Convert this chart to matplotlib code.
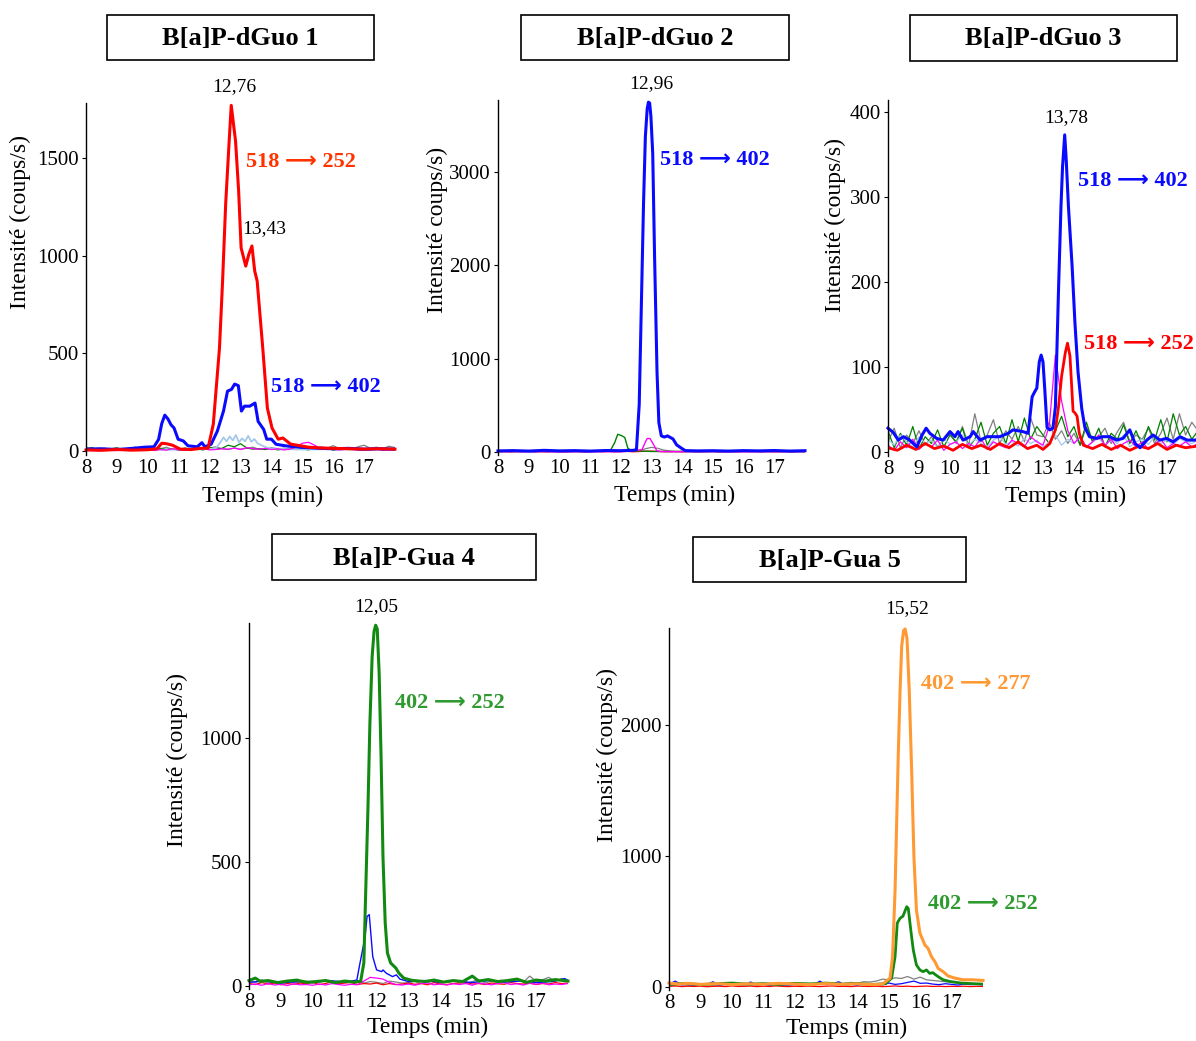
"""Chromatogrammes LC-MS/MS des adduits B[a]P-dGuo / B[a]P-Gua."""
import numpy as np
import matplotlib
matplotlib.use('Agg')
import matplotlib.pyplot as plt
from matplotlib.patches import Rectangle

plt.rcParams['font.family'] = ['Liberation Serif', 'DejaVu Sans']

W, H = 1196, 1041

# ---------------- data (temps en min, intensité en coups/s) ----------------
x_ticks = [8, 9, 10, 11, 12, 13, 14, 15, 16, 17]

# Panel 1 : B[a]P-dGuo 1
p1_red_t = [8.0, 8.5, 9.0, 9.5, 10.0, 10.3, 10.45, 10.6, 10.8, 11.05, 11.4, 11.7, 11.95,
            12.12, 12.32, 12.42, 12.52, 12.62, 12.7, 12.84, 12.94, 13.02, 13.17, 13.27,
            13.37, 13.46, 13.54, 13.72, 13.87, 14.02, 14.22, 14.37, 14.62, 15.2, 15.6,
            16.0, 16.5, 17.0, 17.5, 18.0]
p1_red_v = [6, 4, 8, 5, 7, 12, 40, 38, 30, 10, 8, 14, 15,
            138, 528, 870, 1265, 1550, 1770, 1587, 1331, 1040, 947, 1008,
            1050, 922, 870, 528, 220, 118, 61, 67, 36, 20, 16,
            14, 12, 10, 12, 10]
p1_blue_t = [8.0, 8.5, 9.0, 9.5, 9.9, 10.2, 10.35, 10.45, 10.55, 10.65, 10.75, 10.85, 10.98,
             11.15, 11.3, 11.6, 11.75, 11.85, 12.05, 12.25, 12.45, 12.58, 12.71, 12.81,
             12.93, 13.03, 13.13, 13.3, 13.47, 13.57, 13.75, 13.85, 14.0, 14.15, 14.45,
             15.0, 15.5, 16.0, 16.5, 17.0, 17.5, 18.0]
p1_blue_v = [10, 12, 8, 14, 20, 22, 60, 140, 184, 165, 135, 118, 61,
             52, 27, 22, 43, 22, 35, 102, 205, 307, 316, 343,
             335, 205, 230, 230, 246, 152, 111, 61, 61, 35, 27,
             19, 15, 12, 14, 10, 12, 10]
p1_lblue_t = [8.0, 9.0, 10.0, 11.0, 12.0, 12.2, 12.35, 12.45, 12.55, 12.65, 12.75, 12.85,
              12.95, 13.05, 13.15, 13.25, 13.35, 13.45, 13.55, 13.7, 13.9, 14.5, 15.0,
              16.0, 17.0, 18.0]
p1_lblue_v = [8, 10, 6, 8, 10, 15, 45, 70, 50, 75, 55, 82,
              45, 65, 50, 78, 48, 62, 40, 28, 15, 10, 8,
              10, 7, 9]
p1_gray = [20, 8, 15, 6, 12, 18, 7, 14, 10, 5, 16, 9, 12, 20, 8, 11, 14, 6, 18, 10, 15, 22,
           12, 8, 16, 10, 14, 20, 9, 13, 18, 11, 15, 8, 25, 12, 16, 10, 20, 14, 28, 12, 18,
           10, 22, 30, 15, 20, 12, 25, 18]
p1_green = [12, 18, 6, 14, 9, 16, 5, 12, 20, 8, 10, 6, 14, 9, 12, 5, 16, 8, 11, 6, 20, 10,
            14, 30, 22, 38, 16, 10, 12, 8, 14, 6, 10, 15, 8, 12, 6, 18, 9, 14, 5, 10, 16, 8,
            12, 6, 10, 14, 8, 12, 10]
p1_magenta = [3, 5, 2, 6, 4, 3, 7, 2, 5, 4, 6, 3, 8, 5, 12, 6, 4, 8, 10, 14, 6, 8, 12, 10,
              15, 8, 18, 12, 10, 14, 8, 12, 6, 10, 20, 40, 45, 30, 12, 8, 10, 6, 9, 12, 5,
              8, 6, 10, 4, 7, 5]

# Panel 2 : B[a]P-dGuo 2
p2_blue_t = [8.0, 8.5, 9.0, 9.5, 10.0, 10.5, 11.0, 11.5, 12.0, 12.4, 12.51, 12.6, 12.67,
             12.74, 12.8, 12.86, 12.9, 12.94, 12.98, 13.04, 13.1, 13.18, 13.24, 13.32,
             13.42, 13.52, 13.7, 13.82, 13.98, 14.1, 14.5, 15.0, 15.5, 16.0, 16.5, 17.0,
             17.5, 18.0]
p2_blue_v = [12, 15, 10, 18, 12, 15, 10, 16, 14, 18, 25, 510, 1580,
             2660, 3380, 3680, 3750, 3740, 3600, 3200, 2100, 856, 314, 173,
             160, 173, 140, 76, 40, 15, 12, 14, 10, 15, 12, 16,
             10, 14]
p2_green_t = [8.0, 9.0, 10.0, 11.0, 11.65, 11.8, 11.9, 12.03, 12.13, 12.23, 12.35, 13.0,
              14.0, 15.0, 16.0, 17.0, 18.0]
p2_green_v = [5, 6, 4, 5, 10, 100, 190, 175, 155, 40, 15, 6, 5, 4, 6, 5, 4]
p2_magenta_t = [8.0, 9.0, 10.0, 11.0, 12.0, 12.69, 12.79, 12.86, 12.95, 13.05, 13.17, 13.3,
                14.0, 15.0, 16.0, 17.0, 18.0]
p2_magenta_v = [3, 4, 2, 3, 4, 25, 100, 145, 145, 90, 15, 5, 3, 4, 2, 3, 4]
p2_gray = [8, 12, 5, 10, 6, 14, 4, 9, 12, 6, 10, 5, 8, 11, 4, 9, 13, 6, 10, 7, 12, 8, 5,
           10, 35, 50, 40, 20, 12, 6, 10, 8, 14, 5, 9, 12, 6, 10, 4, 8, 13, 7, 10, 5, 12,
           20, 8, 10, 6, 9, 12]
p2_red = [3, 6, 2, 5, 4, 7, 3, 5, 2, 6, 4, 3, 5, 7, 2, 4, 6, 3, 5, 2, 4, 6, 3, 5, 8, 10,
          6, 4, 3, 5, 2, 6, 4, 3, 5, 7, 2, 4, 6, 3, 5, 4, 6, 3, 5, 2, 4, 6, 3, 5, 4]

# Panel 3 : B[a]P-dGuo 3
p3_blue_t = [8.0, 8.17, 8.33, 8.5, 8.7, 8.93, 9.1, 9.23, 9.35, 9.57, 9.78, 10.0, 10.16,
             10.26, 10.42, 10.65, 10.75, 10.97, 11.2, 11.4, 11.6, 11.88, 12.03, 12.35,
             12.52, 12.65, 12.75, 12.8, 12.88, 12.94, 13.0, 13.06, 13.13, 13.22, 13.32,
             13.4, 13.5, 13.58, 13.63, 13.7, 13.75, 13.82, 13.94, 14.03, 14.13, 14.25,
             14.35, 14.5, 14.73, 14.93, 15.15, 15.37, 15.58, 15.8, 15.97, 16.13, 16.35,
             16.55, 16.77, 16.98, 17.2, 17.42, 17.65, 17.9, 18.0]
p3_blue_v = [28, 23, 14, 18, 14, 6, 20, 28, 22, 16, 14, 24, 18,
             24, 14, 18, 24, 14, 18, 18, 18, 22, 26, 24,
             22, 65, 72, 75, 106, 114, 106, 72, 29, 26, 28,
             53, 190, 289, 335, 373, 343, 289, 218, 152, 94, 51,
             29, 18, 16, 18, 18, 14, 16, 26, 10, 5, 14,
             20, 14, 16, 12, 18, 14, 14, 15]
p3_red_t = [8.0, 8.3, 8.6, 8.9, 9.2, 9.5, 9.8, 10.1, 10.4, 10.7, 11.0, 11.3, 11.6, 11.9,
            12.2, 12.5, 12.8, 13.0, 13.22, 13.4, 13.5, 13.6, 13.72, 13.79, 13.87, 13.97,
            14.03, 14.1, 14.17, 14.3, 14.6, 14.9, 15.2, 15.5, 15.8, 16.1, 16.4, 16.7,
            17.0, 17.3, 17.6, 18.0]
p3_red_v = [5, 2, 8, 3, 10, 4, 7, 2, 9, 4, 8, 3, 10, 5,
            12, 4, 8, 3, 10, 26, 53, 89, 117, 128, 113, 48,
            46, 42, 22, 8, 4, 9, 3, 8, 2, 7, 4, 10,
            3, 8, 5, 7]
p3_green = [25, 5, 22, 8, 30, 4, 18, 10, 26, 6, 20, 12, 28, 5, 15, 35, 8, 22, 30, 10, 38,
            12, 40, 15, 30, 20, 10, 25, 42, 18, 30, 8, 35, 12, 28, 6, 22, 15, 32, 10, 25,
            8, 30, 14, 38, 12, 45, 20, 30, 15, 25]
p3_gray = [12, 28, 5, 20, 10, 25, 8, 18, 6, 15, 22, 10, 30, 8, 45, 12, 20, 38, 10, 25, 15,
           30, 12, 40, 20, 18, 35, 15, 25, 10, 22, 8, 30, 12, 18, 28, 10, 24, 35, 12, 20,
           15, 28, 10, 22, 40, 15, 45, 20, 35, 25]
p3_magenta = [8, 2, 12, 5, 15, 3, 10, 6, 14, 2, 9, 12, 4, 10, 6, 16, 3, 12, 8, 5, 14, 10,
              6, 18, 12, 8, 30, 114, 60, 25, 10, 18, 6, 12, 20, 8, 15, 4, 10, 14, 6, 12,
              3, 9, 15, 5, 10, 7, 12, 6, 10]
p3_lblue = [15, 8, 20, 12, 6, 18, 10, 14, 5, 16, 9, 12, 20, 8, 15, 10, 6, 14, 18, 9, 12,
            7, 16, 10, 14, 6, 12, 20, 8, 15, 10, 18, 5, 12, 16, 8, 14, 10, 20, 6, 12, 15,
            9, 18, 10, 14, 8, 16, 12, 10, 14]

# Panel 4 : B[a]P-Gua 4
p4_green_t = [8.0, 8.2, 8.35, 8.6, 8.9, 9.2, 9.5, 9.8, 10.1, 10.4, 10.7, 11.0, 11.3, 11.5,
              11.6, 11.66, 11.73, 11.79, 11.86, 11.92, 11.97, 12.02, 12.08, 12.14, 12.2,
              12.27, 12.34, 12.44, 12.6, 12.7, 12.85, 13.1, 13.5, 13.8, 14.1, 14.4, 14.7,
              15.0, 15.2, 15.5, 15.8, 16.1, 16.4, 16.7, 17.0, 17.3, 17.6, 18.0]
p4_green_v = [22, 32, 19, 22, 14, 20, 24, 15, 18, 22, 14, 20, 16, 19,
              93, 387, 723, 1060, 1328, 1430, 1455, 1440, 1262, 925, 521,
              254, 133, 93, 73, 52, 32, 23, 18, 24, 16, 22, 18,
              40, 20, 26, 18, 22, 28, 15, 24, 20, 26, 20]
p4_blue_t = [8.0, 8.5, 9.0, 9.5, 10.0, 10.5, 11.0, 11.2, 11.38, 11.48, 11.64, 11.7, 11.77,
             11.82, 11.88, 12.0, 12.16, 12.2, 12.3, 12.5, 12.62, 12.73, 13.0, 13.5, 14.0,
             14.5, 15.0, 15.5, 16.0, 16.5, 17.0, 17.5, 17.9, 18.0]
p4_blue_v = [15, 20, 12, 18, 14, 22, 16, 20, 24, 93, 199, 280, 288,
             210, 118, 65, 58, 65, 52, 38, 45, 28, 18, 22, 15,
             20, 14, 22, 16, 20, 14, 18, 30, 22]
p4_gray = [20, 15, 25, 12, 18, 10, 22, 14, 16, 20, 12, 18, 25, 15, 10, 20, 14, 22, 12, 18,
           15, 10, 20, 16, 12, 14, 18, 10, 15, 20, 12, 16, 22, 14, 10, 18, 25, 12, 20, 15,
           18, 22, 30, 15, 40, 20, 25, 35, 18, 30, 22]
p4_magenta = [5, 8, 3, 10, 4, 7, 2, 9, 5, 6, 3, 8, 4, 10, 6, 3, 7, 5, 20, 35, 32, 28, 15,
              6, 4, 8, 3, 10, 12, 5, 8, 4, 9, 6, 10, 3, 12, 8, 5, 10, 14, 6, 9, 4, 11, 7,
              12, 5, 8, 6, 10]
p4_red = [10, 6, 14, 8, 12, 5, 10, 7, 12, 9, 15, 6, 10, 18, 8, 12, 14, 6, 10, 8, 12, 5,
          10, 6, 8, 12, 7, 10, 5, 14, 8, 6, 10, 12, 15, 8, 10, 6, 12, 9, 7, 14, 10, 8, 12,
          6, 10, 8, 14, 10, 12]

# Panel 5 : B[a]P-Gua 5
p5_orange_t = [8.0, 8.3, 8.6, 9.0, 9.5, 10.0, 10.5, 11.0, 11.5, 12.0, 12.5, 13.0, 13.5,
               14.0, 14.5, 14.8, 15.04, 15.12, 15.2, 15.25, 15.3, 15.36, 15.41, 15.47,
               15.52, 15.58, 15.65, 15.73, 15.8, 15.88, 15.99, 16.15, 16.25, 16.36, 16.47,
               16.57, 16.73, 16.89, 17.1, 17.36, 17.68, 18.0]
p5_orange_v = [30, 22, 28, 20, 26, 18, 24, 20, 28, 22, 18, 26, 20,
               24, 18, 22, 68, 231, 740, 1250, 1760, 2270, 2600, 2720,
               2733, 2660, 2270, 1633, 995, 588, 412, 320, 295, 231, 193,
               142, 117, 84, 68, 55, 55, 50]
p5_green_t = [8.0, 8.5, 9.0, 9.5, 10.0, 10.5, 11.0, 11.5, 12.0, 12.5, 13.0, 13.5, 14.0,
              14.5, 14.9, 15.09, 15.2, 15.27, 15.36, 15.45, 15.57, 15.62, 15.7, 15.78,
              15.88, 15.99, 16.09, 16.2, 16.3, 16.4, 16.57, 16.73, 16.95, 17.3, 17.7, 18.0]
p5_green_v = [20, 28, 18, 25, 30, 22, 26, 20, 28, 24, 30, 22, 26,
              20, 25, 68, 231, 488, 525, 540, 613, 600, 435, 282,
              168, 130, 117, 130, 104, 109, 79, 55, 42, 30, 25, 22]
p5_blue = [20, 45, 15, 22, 12, 25, 18, 40, 14, 20, 12, 22, 16, 38, 15, 20, 12, 24, 18, 14,
           20, 16, 25, 14, 45, 18, 22, 40, 15, 20, 14, 25, 18, 22, 16, 30, 20, 25, 35, 45,
           28, 30, 22, 18, 25, 20, 15, 22, 18, 20, 16]
p5_gray = [15, 10, 20, 12, 16, 10, 18, 14, 12, 20, 15, 10, 18, 12, 16, 22, 14, 18, 12, 20,
           16, 14, 22, 18, 25, 20, 30, 22, 28, 35, 30, 40, 38, 45, 60, 55, 70, 65, 80, 60,
           75, 55, 50, 45, 40, 35, 30, 28, 25, 22, 20]
p5_red = [5, 8, 3, 6, 4, 7, 2, 5, 6, 3, 8, 4, 5, 7, 3, 6, 4, 8, 5, 3, 6, 4, 7, 5, 3, 6, 8,
          4, 5, 3, 7, 5, 4, 6, 3, 5, 8, 4, 6, 3, 5, 7, 4, 6, 3, 5, 4, 6, 3, 5, 4]

# ---------------- style ----------------
BLUE = '#0a0aff'
RED = '#ff0000'
GREEN = '#128a12'
DKGREEN = '#008000'
ORANGE = '#ff9933'
MAGENTA = '#ff00ff'
GRAY = '#808080'
LBLUE = '#a4c8ea'
ARROW = '\u27f6'

fig = plt.figure(figsize=(W / 100, H / 100), dpi=100)


def fx(x):
    return x / W


def fy(y):
    return 1 - y / H


def make_axes(left, right, top, bottom, ylim, yticks):
    ax = fig.add_axes([fx(left), fy(bottom), (right - left) / W, (bottom - top) / H])
    ax.set_xlim(8, 18)
    ax.set_ylim(*ylim)
    for s in ('top', 'right', 'bottom'):
        ax.spines[s].set_visible(False)
    ax.spines['left'].set_linewidth(1.0)
    ax.set_xticks(x_ticks)
    ax.set_xticklabels([str(t) for t in x_ticks])
    ax.set_yticks(yticks)
    ax.tick_params(axis='x', length=0, pad=3, labelsize=15)
    ax.tick_params(axis='y', length=3, width=0.8, pad=2, labelsize=15)
    ax.patch.set_alpha(0)
    return ax


def grid(values):
    return np.linspace(8, 18, len(values))


def title_box(x0, x1, y0, y1, text):
    fig.patches.append(Rectangle((fx(x0), fy(y1)), (x1 - x0) / W, (y1 - y0) / H,
                                 transform=fig.transFigure, fill=False,
                                 edgecolor='black', linewidth=1.2))
    fig.text(fx((x0 + x1) / 2), fy((y0 + y1) / 2 + 1), text, ha='center', va='center',
             fontsize=19, fontweight='bold')


def labels(xc, yc, xl_x, xl_y, ylabel='Intensité (coups/s)'):
    fig.text(fx(xc), fy(yc), 'Temps (min)', ha='center', va='center', fontsize=17)
    fig.text(fx(xl_x), fy(xl_y), ylabel, ha='center', va='center', fontsize=17,
             rotation=90)


def trans(x, y, a, b, color):
    fig.text(fx(x), fy(y), f'{a} {ARROW} {b}', ha='center', va='center', fontsize=16,
             fontweight='bold', color=color)


def peak(ax, t, v, text, dx=0, dy=19):
    ax.annotate(text, (t, v), xytext=(dx, dy), textcoords='offset pixels',
                ha='center', va='center', fontsize=14)


# ---- Panel 1
ax1 = make_axes(86, 395, 103, 455, (-20, 1782), [0, 500, 1000, 1500])
ax1.plot(grid(p1_gray), p1_gray, color=GRAY, lw=0.9)
ax1.plot(grid(p1_green), p1_green, color=DKGREEN, lw=0.9)
ax1.plot(p1_lblue_t, p1_lblue_v, color=LBLUE, lw=1.3)
ax1.plot(grid(p1_magenta), p1_magenta, color=MAGENTA, lw=0.9)
ax1.plot(p1_blue_t, p1_blue_v, color=BLUE, lw=2.2)
ax1.plot(p1_red_t, p1_red_v, color=RED, lw=2.2, clip_on=False)
peak(ax1, 12.7, 1770, '12,76', dx=3, dy=19)
peak(ax1, 13.37, 1050, '13,43', dx=12, dy=17)
title_box(107, 374, 15, 60, 'B[a]P-dGuo 1')
labels(263, 496, 20, 222)
trans(301, 162, 518, 252, '#ff3300')
trans(326, 387, 518, 402, BLUE)

# ---- Panel 2
ax2 = make_axes(498, 805, 100, 455, (-32, 3773), [0, 1000, 2000, 3000])
ax2.plot(grid(p2_gray), p2_gray, color=GRAY, lw=0.9)
ax2.plot(grid(p2_red), p2_red, color=RED, lw=0.9)
ax2.plot(p2_green_t, p2_green_v, color=DKGREEN, lw=1.0)
ax2.plot(p2_magenta_t, p2_magenta_v, color=MAGENTA, lw=1.0)
ax2.plot(p2_blue_t, p2_blue_v, color=BLUE, lw=2.2, clip_on=False)
peak(ax2, 12.92, 3750, '12,96', dx=2, dy=19)
title_box(521, 789, 15, 60, 'B[a]P-dGuo 2')
labels(675, 495, 437, 230, ylabel='Intensité coups/s)')
trans(715, 160, 518, 402, BLUE)

# ---- Panel 3
ax3 = make_axes(888, 1198, 100, 456, (-4.7, 414), [0, 100, 200, 300, 400])
ax3.plot(grid(p3_gray), p3_gray, color=GRAY, lw=0.9)
ax3.plot(grid(p3_green), p3_green, color=DKGREEN, lw=0.9)
ax3.plot(grid(p3_lblue), p3_lblue, color=LBLUE, lw=0.9)
ax3.plot(grid(p3_magenta), p3_magenta, color=MAGENTA, lw=0.9)
ax3.plot(p3_red_t, p3_red_v, color=RED, lw=2.0)
ax3.plot(p3_blue_t, p3_blue_v, color=BLUE, lw=2.2, clip_on=False)
peak(ax3, 13.7, 373, '13,78', dx=2, dy=17)
title_box(910, 1177, 15, 61, 'B[a]P-dGuo 3')
labels(1066, 496, 835, 225)
trans(1133, 181, 518, 402, BLUE)
trans(1139, 344, 518, 252, RED)

# ---- Panel 4
ax4 = make_axes(249, 568, 623, 989, (-12, 1464), [0, 500, 1000])
ax4.plot(grid(p4_gray), p4_gray, color=GRAY, lw=0.9)
ax4.plot(grid(p4_red), p4_red, color=RED, lw=0.9)
ax4.plot(grid(p4_magenta), p4_magenta, color=MAGENTA, lw=0.9)
ax4.plot(p4_blue_t, p4_blue_v, color=BLUE, lw=1.0)
ax4.plot(p4_green_t, p4_green_v, color=GREEN, lw=2.2, clip_on=False)
peak(ax4, 11.97, 1455, '12,05', dx=1, dy=19)
title_box(272, 536, 534, 580, 'B[a]P-Gua 4')
labels(428, 1027, 177, 760)
trans(450, 703, 402, 252, '#2f9a2f')

# ---- Panel 5
ax5 = make_axes(669, 983, 628, 990, (-23, 2740), [0, 1000, 2000])
ax5.plot(grid(p5_gray), p5_gray, color=GRAY, lw=0.9)
ax5.plot(grid(p5_red), p5_red, color=RED, lw=0.9)
ax5.plot(grid(p5_blue), p5_blue, color=BLUE, lw=0.9)
ax5.plot(p5_green_t, p5_green_v, color=GREEN, lw=2.0)
ax5.plot(p5_orange_t, p5_orange_v, color=ORANGE, lw=2.2, clip_on=False)
peak(ax5, 15.52, 2733, '15,52', dx=2, dy=20)
title_box(693, 966, 537, 582, 'B[a]P-Gua 5')
labels(847, 1028, 607, 755)
trans(976, 684, 402, 277, ORANGE)
trans(983, 904, 402, 252, '#2f9a2f')

fig.savefig('out.png', dpi=100)
